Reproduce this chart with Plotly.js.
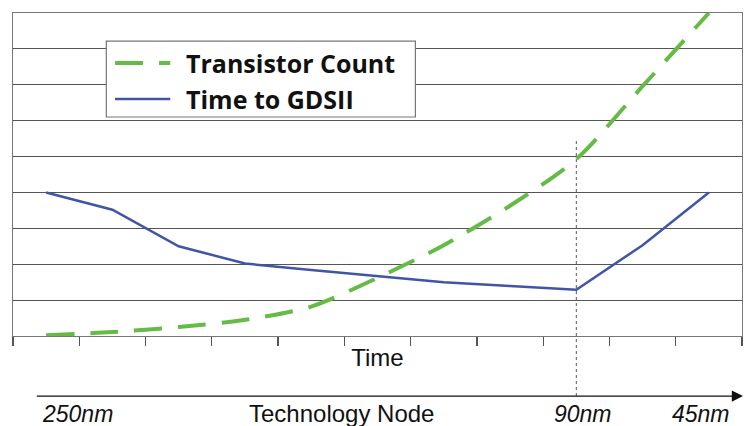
<!DOCTYPE html>
<html>
<head>
<meta charset="utf-8">
<script src="https://cdn.plot.ly/plotly-3.0.1.min.js"></script>
<style>
  html, body { margin: 0; padding: 0; background: #fff; }
  #chart { width: 749px; height: 426px; }
</style>
</head>
<body>
<div id="chart"></div>
<script>
// ---- data ----
var timeSteps = [0, 1, 2, 3, 4, 5, 6, 7, 8, 9, 10];
var transistorCount = [0.02, 0.11, 0.25, 0.45, 0.82, 1.62, 2.53, 3.63, 4.93, 6.96, 9.0];
var timeToGDSII = [4.0, 3.52, 2.5, 2.02, 1.84, 1.68, 1.5, 1.39, 1.29, 2.53, 4.0];
var seriesNames = ['Transistor Count', 'Time to GDSII'];
var nodeLabels = ['250nm', '90nm', '45nm'];
var nodeSteps = [0.47, 8.1, 9.88];
var axisTitle = 'Time';
var nodeTitle = 'Technology Node';
var nodeTitleStep = 4.45;
var markerStep = 8;   // 90nm node marker
var markerTop = 5.5;

var green = '#66bb46';
var blue = '#4055a6';
var dashPat = '28px,16px';

var traces = [
  {
    x: timeSteps, y: transistorCount, name: seriesNames[0], type: 'scatter', mode: 'lines',
    line: { color: green, width: 4, dash: dashPat, shape: 'spline', smoothing: 0.8 },
    showlegend: false, hoverinfo: 'skip'
  },
  {
    x: timeSteps, y: timeToGDSII, name: seriesNames[1], type: 'scatter', mode: 'lines',
    line: { color: blue, width: 2.5 },
    showlegend: false, hoverinfo: 'skip'
  }
];

var legendFont = { family: '"Open Sans", Lato, sans-serif', size: 25, color: '#111', weight: 'bold' };
var plainFont = { family: '"Liberation Sans", Arial, sans-serif', size: 24, color: '#111' };
var italicFont = { family: '"Liberation Sans", Arial, sans-serif', size: 23, color: '#111', style: 'italic' };

var annotations = [];
for (var i = 0; i < nodeLabels.length; i++) {
  annotations.push({
    x: nodeSteps[i], xref: 'x', y: -0.24, yref: 'paper',
    text: nodeLabels[i], showarrow: false, font: italicFont,
    xanchor: 'center', yanchor: 'middle'
  });
}
annotations.push({
  x: nodeTitleStep, xref: 'x', y: -0.24, yref: 'paper',
  text: nodeTitle, showarrow: false, font: plainFont,
  xanchor: 'center', yanchor: 'middle'
});
// technology-node arrow
annotations.push({
  x: 1.0014, xref: 'paper', y: -0.186, yref: 'paper',
  ax: 0.0306, axref: 'paper', ay: -0.186, ayref: 'paper',
  text: '', showarrow: true, arrowhead: 2, arrowsize: 1.6, arrowwidth: 1.4, arrowcolor: '#111'
});
// legend texts
annotations.push({
  x: 0.2347, xref: 'paper', y: 0.845, yref: 'paper', text: seriesNames[0],
  showarrow: false, font: legendFont, xanchor: 'left', yanchor: 'middle'
});
annotations.push({
  x: 0.2347, xref: 'paper', y: 0.734, yref: 'paper', text: seriesNames[1],
  showarrow: false, font: legendFont, xanchor: 'left', yanchor: 'middle'
});

var shapes = [
  // 90nm marker (dotted)
  { type: 'line', xref: 'x', yref: 'paper', x0: markerStep, x1: markerStep, y0: -0.186,
    y1: markerTop / 9, line: { color: '#555', width: 1, dash: 'dot' } },
  // legend box
  { type: 'rect', xref: 'paper', yref: 'paper', x0: 0.128, x1: 0.552, y0: 0.678, y1: 0.913,
    fillcolor: '#fff', line: { color: '#777', width: 1.2 }, layer: 'above' },
  // legend samples
  { type: 'line', xref: 'paper', yref: 'paper', x0: 0.140, x1: 0.2157, y0: 0.845, y1: 0.845,
    line: { color: green, width: 4, dash: dashPat }, layer: 'above' },
  { type: 'line', xref: 'paper', yref: 'paper', x0: 0.140, x1: 0.2157, y0: 0.734, y1: 0.734,
    line: { color: blue, width: 2.5 }, layer: 'above' }
];

var layout = {
  width: 749, height: 426,
  margin: { l: 13, r: 7, t: 13, b: 90 },
  paper_bgcolor: '#fff', plot_bgcolor: '#fff',
  showlegend: false,
  xaxis: {
    range: [-0.5, 10.5], tickmode: 'linear', tick0: -0.5, dtick: 1,
    ticks: 'outside', ticklen: 9, tickwidth: 1.2, tickcolor: '#555',
    showticklabels: false, showgrid: false, zeroline: false,
    showline: true, linecolor: '#777', linewidth: 1.2, mirror: true,
    title: { text: axisTitle, font: plainFont, standoff: 4 }
  },
  yaxis: {
    range: [0, 9], tickmode: 'linear', tick0: 0, dtick: 1,
    showticklabels: false, ticks: '', showgrid: true, gridcolor: '#555', gridwidth: 1.2,
    zeroline: false, showline: true, linecolor: '#777', linewidth: 1.2, mirror: true
  },
  annotations: annotations,
  shapes: shapes
};

Plotly.newPlot('chart', traces, layout, { staticPlot: true, displayModeBar: false });
</script>
</body>
</html>
